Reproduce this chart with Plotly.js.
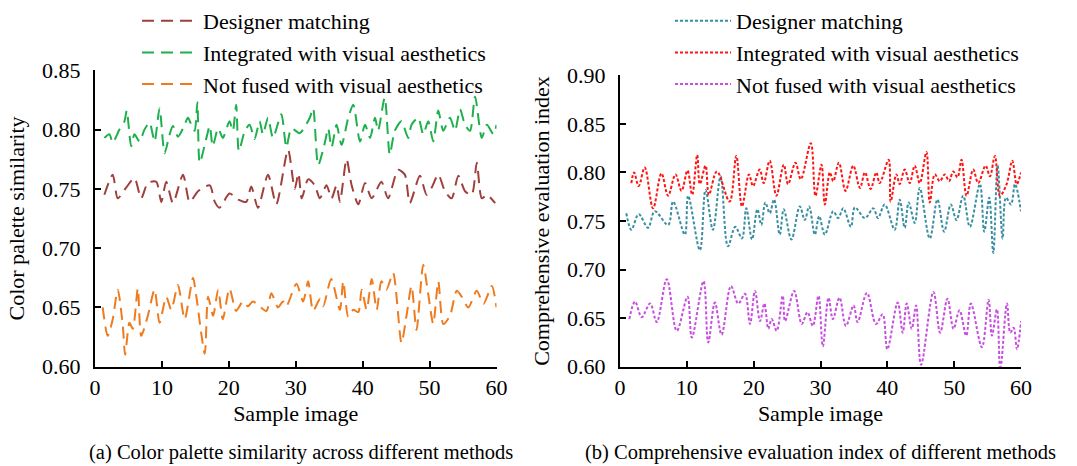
<!DOCTYPE html>
<html>
<head>
<meta charset="utf-8">
<script src="https://cdn.plot.ly/plotly-3.0.1.min.js"></script>
<style>
  html, body { margin: 0; padding: 0; background: #fff; }
  #chart { width: 1077px; height: 466px; }
</style>
</head>
<body>
<div id="chart"></div>
<script>
// (a) Color palette similarity
const simDesignerX = [1.4,2.65,3.4,4.65,5.9,6.9,7.9,9.15,9.9,10.65,11.65,13.15,14.15,15.4,17.15,17.9,18.6,20.1,21.4,22.6,23.35,24.35,25.85,27.1,28.85,29.85,30.4,30.9,31.85,32.85,33.6,34.6,35.35,36.1,36.6,37.6,38.35,39.35,40.35,41.35,42.8,43.8,45.3,46.3,47.05,48.55,49.55,50.3,51.3,52.3,53.3,54.3,55.3,56.3,57.05,57.8,58.55,59.8];
const simDesignerY = [0.745,0.762,0.742,0.751,0.759,0.742,0.755,0.756,0.739,0.756,0.738,0.762,0.739,0.748,0.753,0.739,0.734,0.746,0.741,0.739,0.752,0.734,0.762,0.737,0.783,0.750,0.763,0.742,0.758,0.753,0.742,0.753,0.742,0.753,0.739,0.775,0.753,0.737,0.755,0.742,0.756,0.742,0.766,0.762,0.738,0.761,0.745,0.751,0.762,0.748,0.742,0.761,0.748,0.745,0.772,0.742,0.745,0.738];

const simIntegratedX = [1.4,2.15,2.65,3.65,4.4,4.75,5.4,5.9,6.65,7.4,8.15,8.9,9.65,10.4,11.15,11.65,12.4,13.15,13.9,14.4,14.9,15.3,15.65,16.65,17.15,17.6,18.4,19.1,20.1,20.6,21.1,21.5,22.4,23.1,23.85,24.6,25.1,25.85,26.6,27.85,28.6,29.35,30.6,32.1,32.6,33.35,34.35,34.85,35.35,36.1,36.85,37.85,38.6,39.6,40.35,41.1,41.85,42.3,43.3,44.05,44.8,45.8,46.8,47.3,48.3,49.05,49.8,50.55,51.3,52.05,53.05,53.8,54.55,55.3,56.05,56.8,57.8,58.55,59.55,60];
const simIntegratedY = [0.793,0.796,0.789,0.800,0.807,0.816,0.786,0.796,0.790,0.800,0.806,0.790,0.818,0.780,0.796,0.803,0.794,0.801,0.810,0.804,0.799,0.823,0.772,0.793,0.803,0.786,0.801,0.793,0.807,0.799,0.821,0.782,0.799,0.804,0.792,0.807,0.796,0.810,0.793,0.813,0.785,0.801,0.797,0.810,0.818,0.770,0.789,0.801,0.785,0.804,0.787,0.810,0.821,0.790,0.804,0.793,0.810,0.799,0.827,0.779,0.799,0.807,0.793,0.804,0.810,0.796,0.807,0.790,0.816,0.799,0.810,0.799,0.817,0.804,0.799,0.828,0.793,0.804,0.796,0.804];

const simNotFusedX = [1.15,1.9,2.65,3.4,4.15,4.5,5.15,5.65,6.4,6.9,7.9,8.9,9.65,10.65,11.4,12.4,13.4,14.65,15.15,16.4,16.9,17.65,18.4,19.1,20.1,21.1,22.1,22.85,23.6,25.6,26.35,27.35,28.1,28.6,30.1,31.1,31.85,32.6,33.6,34.1,35.3,36.6,37.1,37.85,38.6,39.35,39.85,40.6,41.35,42.1,42.8,43.55,44.55,45.8,46.55,47.3,48.05,49.05,49.8,50.55,51.3,52.05,53.05,54.05,54.8,55.8,57.05,58.05,59.3,60];
const simNotFusedY = [0.650,0.626,0.640,0.665,0.635,0.610,0.637,0.632,0.666,0.626,0.643,0.665,0.637,0.659,0.648,0.669,0.640,0.675,0.659,0.611,0.659,0.643,0.665,0.640,0.666,0.647,0.655,0.651,0.655,0.647,0.662,0.650,0.655,0.651,0.670,0.655,0.672,0.647,0.657,0.651,0.674,0.648,0.672,0.642,0.648,0.646,0.665,0.648,0.674,0.648,0.672,0.665,0.679,0.620,0.643,0.668,0.631,0.686,0.661,0.636,0.672,0.636,0.643,0.664,0.659,0.650,0.664,0.653,0.668,0.650];

// (b) Comprehensive evaluation index
const evalDesignerX = [0.95,1.7,2.8,4.2,5.2,7.2,7.95,9.7,10.2,11.95,12.8,13.9,15.05,16.15,17.25,18.25,18.9,19.75,20.55,21.15,21.75,22.4,23.05,23.9,24.5,25.65,26.9,27.65,28.3,29.15,29.8,30.65,31.9,32.65,33.4,34.55,35.15,36.65,37.9,38.6,39.6,41.1,41.85,42.6,43.2,44.1,44.85,46.35,47.5,48.5,49.5,50.35,51.35,52.35,53.85,54.5,55.25,55.85,56.5,57.25,57.75,58.5,59.1,60];
const evalDesignerY = [0.758,0.741,0.757,0.743,0.760,0.746,0.770,0.736,0.776,0.720,0.782,0.741,0.796,0.724,0.744,0.732,0.763,0.731,0.762,0.746,0.769,0.758,0.772,0.736,0.762,0.731,0.765,0.751,0.765,0.736,0.755,0.736,0.760,0.753,0.763,0.744,0.764,0.753,0.763,0.753,0.767,0.741,0.772,0.743,0.769,0.748,0.784,0.732,0.772,0.739,0.767,0.751,0.776,0.744,0.788,0.739,0.774,0.717,0.807,0.732,0.774,0.767,0.788,0.760];

const evalIntegratedX = [1.7,2.1,2.8,3.7,4.95,6.2,7.2,8.3,9.2,10.1,10.8,11.55,11.95,12.8,13.3,14.5,16.4,17.4,18.25,19.3,19.9,20.9,21.5,22.4,23.4,24.5,25.15,26.25,27.05,28.55,29.25,30.15,30.65,31.4,31.9,32.75,33.75,34.9,35.9,36.65,37.5,38.35,38.85,40.2,40.5,41.35,41.85,42.6,43.35,44.1,44.85,45.85,46.35,47.1,47.85,48.6,49.25,49.85,50.5,51.1,51.85,52.85,53.6,54.7,55.35,56.1,56.85,57.85,58.7,59.35,60];
const evalIntegratedY = [0.789,0.800,0.786,0.805,0.763,0.799,0.776,0.798,0.781,0.802,0.777,0.818,0.788,0.807,0.777,0.801,0.770,0.817,0.765,0.798,0.786,0.803,0.789,0.812,0.776,0.808,0.788,0.810,0.793,0.830,0.776,0.808,0.767,0.800,0.791,0.810,0.781,0.807,0.784,0.800,0.783,0.800,0.789,0.813,0.770,0.798,0.788,0.803,0.789,0.807,0.789,0.821,0.769,0.798,0.791,0.798,0.791,0.801,0.795,0.813,0.776,0.803,0.789,0.807,0.796,0.817,0.776,0.788,0.812,0.788,0.800];

const evalNotFusedX = [1.4,2.25,3.25,4.5,5.5,7.0,8.5,10.1,10.75,12.5,13.2,14.2,15.2,16.6,17.7,18.7,19.45,20.2,20.95,21.6,22.2,22.7,23.45,24.35,24.7,26.05,27.2,28.05,28.85,29.7,30.35,31.2,31.85,32.85,33.8,34.95,35.55,36.95,38.3,39.3,40.0,41.55,42.3,42.9,43.65,44.3,45.05,46.9,47.9,49.0,49.9,50.8,51.8,52.5,54.15,55.15,55.65,56.4,56.9,57.9,58.4,58.9,59.4,60];
const evalNotFusedY = [0.649,0.667,0.651,0.665,0.646,0.690,0.637,0.672,0.630,0.688,0.625,0.666,0.633,0.683,0.665,0.675,0.644,0.678,0.647,0.665,0.639,0.649,0.637,0.673,0.647,0.678,0.644,0.656,0.642,0.673,0.621,0.671,0.649,0.671,0.642,0.663,0.646,0.676,0.644,0.654,0.618,0.666,0.635,0.665,0.639,0.663,0.602,0.677,0.635,0.670,0.639,0.658,0.632,0.665,0.620,0.669,0.632,0.659,0.597,0.665,0.635,0.640,0.618,0.647];

const seriesNames = ['Designer matching', 'Integrated with visual aesthetics', 'Not fused with visual aesthetics'];
const captions = ['(a) Color palette similarity across different methods', '(b) Comprehensive evaluation index of different methods'];

const FONT = 'Liberation Serif';
const W = 1077, H = 466;
const FS = 22;

function lineTrace(x, y, name, color, dash, axes, legend, smoothing) {
  return {
    x: x, y: y, name: name, type: 'scatter', mode: 'lines',
    xaxis: axes[0], yaxis: axes[1], legend: legend, legendgroup: legend + name,
    line: { color: color, width: 2, dash: dash, shape: 'spline', smoothing: smoothing },
    hoverinfo: 'skip'
  };
}

const dashA = '12px,7px';
const dotB = '3px,2px';

const traces = [
  lineTrace(simDesignerX, simDesignerY, seriesNames[0], '#a0403c', dashA, ['x', 'y'], 'legend', 0.7),
  lineTrace(simIntegratedX, simIntegratedY, seriesNames[1], '#1db04c', dashA, ['x', 'y'], 'legend', 0.7),
  lineTrace(simNotFusedX, simNotFusedY, seriesNames[2], '#ef7b1f', dashA, ['x', 'y'], 'legend', 0.7),
  lineTrace(evalDesignerX, evalDesignerY, seriesNames[0], '#3a8ea0', dotB, ['x2', 'y2'], 'legend2', 1),
  lineTrace(evalIntegratedX, evalIntegratedY, seriesNames[1], '#ff1414', dotB, ['x2', 'y2'], 'legend2', 1),
  lineTrace(evalNotFusedX, evalNotFusedY, seriesNames[2], '#c84ee0', dotB, ['x2', 'y2'], 'legend2', 1)
];

function xAxis(domain, anchor) {
  return {
    domain: domain, anchor: anchor, range: [0, 60], dtick: 10, tick0: 0,
    ticks: 'inside', ticklen: 6, tickwidth: 2, tickcolor: '#000',
    showline: true, linewidth: 2, linecolor: '#000',
    showgrid: false, zeroline: false, fixedrange: true,
    tickfont: { family: FONT, size: FS, color: '#000' },
    title: { text: 'Sample image', font: { family: FONT, size: FS, color: '#000' }, standoff: 7 }
  };
}
function yAxis(domain, anchor, range, title) {
  return {
    domain: domain, anchor: anchor, range: range, dtick: 0.05, tick0: 0.6, tickformat: '.2f',
    ticks: 'inside', ticklen: 6, tickwidth: 2, tickcolor: '#000',
    showline: true, linewidth: 2, linecolor: '#000',
    showgrid: false, zeroline: false, fixedrange: true,
    ticklabelstandoff: 8,
    tickfont: { family: FONT, size: FS, color: '#000' },
    title: { text: title, font: { family: FONT, size: FS, color: '#000' }, standoff: 11 }
  };
}

const bottom = 1 - 366.7 / H;
const legendFont = { family: FONT, size: FS, color: '#000' };

const layout = {
  width: W, height: H,
  margin: { l: 0, r: 0, t: 0, b: 0 },
  paper_bgcolor: '#fff', plot_bgcolor: '#fff',
  font: { family: FONT, color: '#000' },
  xaxis: xAxis([95 / W, 496.5 / W], 'y'),
  yaxis: yAxis([bottom, 1 - 70.3 / H], 'x', [0.60, 0.85], 'Color palette similarity'),
  xaxis2: xAxis([620 / W, 1021 / W], 'y2'),
  yaxis2: yAxis([bottom, 1 - 75.3 / H], 'x2', [0.60, 0.90], 'Comprehensive evaluation index'),
  legend: {
    x: 137 / W, y: 1, xanchor: 'left', yanchor: 'top',
    bgcolor: 'rgba(0,0,0,0)', font: legendFont, itemwidth: 56, tracegroupgap: 0
  },
  legend2: {
    x: 670 / W, y: 1, xanchor: 'left', yanchor: 'top',
    bgcolor: 'rgba(0,0,0,0)', font: legendFont, itemwidth: 56, tracegroupgap: 0
  },
  annotations: [
    { text: captions[0], xref: 'paper', yref: 'paper', x: 301 / W, y: 1 - 452 / H,
      xanchor: 'center', yanchor: 'middle', showarrow: false,
      font: { family: FONT, size: 20.5, color: '#000' } },
    { text: captions[1], xref: 'paper', yref: 'paper', x: 820 / W, y: 1 - 452 / H,
      xanchor: 'center', yanchor: 'middle', showarrow: false,
      font: { family: FONT, size: 20.5, color: '#000' } }
  ]
};

Plotly.newPlot('chart', traces, layout, { staticPlot: true, displayModeBar: false });
</script>
</body>
</html>
